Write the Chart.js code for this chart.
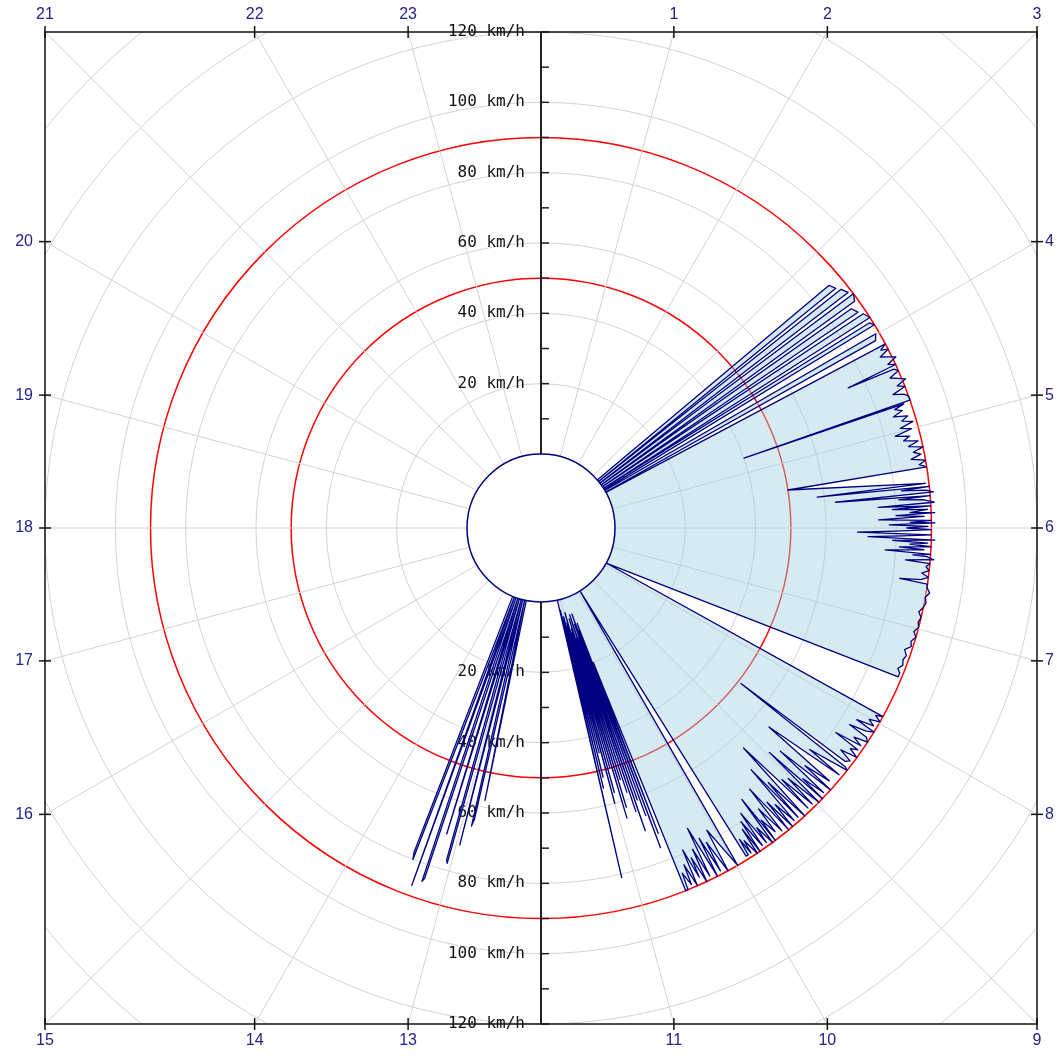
<!DOCTYPE html>
<html lang="ja">
<head>
<meta charset="utf-8">
<title>時刻別速度</title>
<script src="https://cdn.jsdelivr.net/npm/chart.js@4/dist/chart.umd.min.js"></script>
<style>
  html, body { margin: 0; padding: 0; background: #fff; }
  .chart-box { width: 1057px; height: 1058px; position: relative; }
</style>
</head>
<body>
<div class="chart-box"><canvas id="speedChart"></canvas></div>
<script>
// 計測時刻（0時からの分、30秒単位）
const minutes = [
  198, 199.5, 203.5, 204, 204.5, 206, 210, 210.5, 211, 212.5, 216.5, 217, 217.5, 219, 223, 223.5, 224, 225.5, 229.5, 230, 230.5, 232, 234.5, 235, 238, 239.5, 243, 243.5, 245, 247.5,
  249.5, 251, 253, 255, 257, 259, 261, 262, 263, 265, 267, 269, 271, 273, 275, 277, 279, 281, 283.5, 284, 284.5, 286, 288, 290, 292, 294, 296, 298, 300, 302, 304, 306, 308, 310, 312, 314, 316, 318, 320, 322, 324, 325, 333.5,
  334.5, 335.5, 336.5, 337.5, 339, 340, 341, 342, 343, 345, 346, 347, 348, 349, 350.5, 351, 352, 353, 354.5, 355.5, 356.5, 357, 358, 359, 360, 361, 362, 363, 364, 365, 366, 367, 368, 369, 370, 371, 372, 373, 374.5, 375.5, 376.5, 377, 378.5, 380, 381, 383, 385, 387, 389, 391, 392, 393,
  395, 398, 401, 404, 407, 410, 413, 416, 419, 422, 425, 428, 431, 434, 437, 440, 443, 446, 448, 450.5,
  473, 475.5, 477, 479, 481, 483, 485, 486, 488, 490, 491, 493, 495, 497, 499, 500, 502, 504, 506, 508, 510, 511.5, 512.5, 513.5,
  518, 518.5, 524.5, 525, 528, 528.5, 532, 532.5, 535, 535.5, 538, 538.5, 541.5, 542, 545, 545.5, 549.5, 550, 553, 553.5, 556, 556.5, 559, 559.5, 562, 562.5, 565.5, 566, 569, 569.5, 572, 572.5, 574, 574.5, 577, 577.5, 580, 580.5, 583, 583.5, 585, 585.5, 588, 588.5, 590, 590.5, 592, 593, 599,
  605, 605.5, 609, 609.5, 612, 612.5, 616, 616.5, 619, 619.5, 622, 622.5, 625, 625.5, 628, 628.5, 631, 631.5, 633,
  635, 636, 637, 638, 639, 640, 641, 642, 643, 644, 645, 646, 647, 648, 649, 650, 651, 652, 653, 654, 655, 656, 657, 658, 659, 660, 661, 662, 663, 664, 665, 666, 667, 668, 669,
  766, 766.5, 771, 771.5, 772.5, 777, 777.5, 782, 782.5, 783.5, 788, 788.5, 793, 793.5, 794.5, 799, 799.5, 804, 804.5, 805.5, 810
];
// 速度 (km/h)
const speeds = [
  0, 86, 87, 0, 0, 88, 89, 0, 0, 90, 89, 0, 0, 87, 88, 0, 0, 89, 90, 0, 0, 89, 90, 0, 0, 89, 88, 0, 0, 90,
  88, 90, 87, 89, 91, 88, 90, 75, 89, 90, 87, 89, 91, 88, 90, 86, 89, 90, 90, 40, 88, 85, 87, 84, 88, 86, 89, 85, 88, 83, 87, 85, 89, 86, 90, 87, 89, 86, 90, 88, 90, 50, 89,
  58, 90, 82, 89, 91, 63, 90, 81, 88, 91, 75, 90, 79, 89, 84, 91, 80, 88, 75, 90, 84, 91, 78, 89, 83, 90, 80, 69, 90, 82, 72, 91, 79, 89, 84, 90, 81, 88, 77, 90, 85, 89, 91, 83, 90, 89, 90, 88, 90, 88, 82, 90,
  90, 91, 90, 90.5, 90, 89, 90, 89.5, 90, 89, 90, 89, 89.5, 88, 89, 88.5, 89, 88, 89, 89,
  0, 90, 88, 90, 87, 89, 84, 90, 88, 83, 89, 90, 86, 89, 81, 89, 87, 90, 85, 89, 88, 51, 89, 90,
  78, 89, 65, 88, 80, 90, 72, 89, 82, 90, 70, 90, 79, 89, 78, 89, 64, 90, 76, 89, 70, 89, 82, 90, 80, 90, 74, 89, 80, 88, 83, 90, 75, 90, 84, 89, 78, 89, 80, 90, 82, 90, 85, 89, 84, 89, 89, 0, 90,
  77, 90, 80, 89, 78, 90, 74, 89, 80, 90, 82, 88, 79, 90, 83, 89, 85, 90, 90,
  20, 72, 8, 76, 10, 66, 5, 61, 8, 70, 12, 64, 5, 58, 12, 54, 6, 62, 9, 65, 10, 50, 4, 57, 7, 60, 8, 45, 5, 52, 6, 55, 3, 81, 0,
  0, 58, 0, 64, 66, 0, 72, 0, 78, 77, 0, 70, 0, 84, 85, 0, 87, 0, 80, 78, 0
];

const speedTicks = [20, 40, 60, 80, 100, 120]; // 速度軸のラベル
const limitSpeeds = [50, 90];                 // 赤い基準円
const hourTicks = [1, 2, 3, 4, 5, 6, 7, 8, 9, 10, 11, 13, 14, 15, 16, 17, 18, 19, 20, 21, 22, 23];
const outerRings = [140, 160];                // 枠の隅に見える補助円

document.addEventListener("DOMContentLoaded", () => {
  const canvas = document.getElementById("speedChart");
  if (!canvas) return;

  const SLOTS = 24 * 60 * 2;          // 30秒ごとの角度スロット
  const SLOTS_PER_HOUR = SLOTS / 24;
  const MAX_SPEED = 120;
  const HOLE = 74 / 496;              // 中央の穴（外周に対する比）
  const minSpeed = -MAX_SPEED * HOLE / (1 - HOLE);

  const labels = Array.from({ length: SLOTS }, (_, i) => i);
  const values = new Array(SLOTS).fill(null);
  minutes.forEach((m, i) => { values[Math.round(m * 2)] = speeds[i]; });

  const GRID = "#d2d2d2";
  const NAVY = "#000080";

  const polarFrame = {
    id: "polarFrame",
    beforeDatasetsDraw(chart) {
      const { ctx, chartArea: a } = chart;
      const r = chart.scales.r;
      const cx = r.xCenter, cy = r.yCenter;
      const half = (a.right - a.left) / 2;
      const outer = r.getDistanceFromCenterForValue(MAX_SPEED);

      // 120km/h より外側の補助線（枠でクリップ）
      ctx.save();
      ctx.beginPath();
      ctx.rect(a.left, a.top, a.right - a.left, a.bottom - a.top);
      ctx.clip();
      ctx.strokeStyle = GRID;
      ctx.lineWidth = 1;
      outerRings.forEach(v => {
        ctx.beginPath();
        ctx.arc(cx, cy, r.getDistanceFromCenterForValue(v), 0, Math.PI * 2);
        ctx.stroke();
      });
      for (let h = 0; h < 24; h++) {
        const ang = h * Math.PI / 12, sx = Math.sin(ang), sy = -Math.cos(ang);
        const t = half / Math.max(Math.abs(sx), Math.abs(sy));
        ctx.beginPath();
        ctx.moveTo(cx + sx * outer, cy + sy * outer);
        ctx.lineTo(cx + sx * t, cy + sy * t);
        ctx.stroke();
      }
      ctx.restore();

      // 縦の速度軸と目盛
      ctx.save();
      ctx.strokeStyle = "#222";
      ctx.lineWidth = 2;
      ctx.beginPath();
      ctx.moveTo(cx, a.top);
      ctx.lineTo(cx, a.bottom);
      ctx.stroke();
      ctx.lineWidth = 1.5;
      for (let v = 10; v <= MAX_SPEED; v += 10) {
        const d = r.getDistanceFromCenterForValue(v);
        [cy - d, cy + d].forEach(y => {
          ctx.beginPath();
          ctx.moveTo(cx, y);
          ctx.lineTo(cx + 8, y);
          ctx.stroke();
        });
      }
      ctx.font = '16px "DejaVu Sans Mono", monospace';
      ctx.fillStyle = "#111";
      ctx.textAlign = "right";
      ctx.textBaseline = "middle";
      speedTicks.forEach(v => {
        const d = r.getDistanceFromCenterForValue(v);
        ctx.fillText(v + " km/h", cx - 16, cy - d);
        ctx.fillText(v + " km/h", cx - 16, cy + d);
      });
      ctx.restore();
    },
    afterDatasetsDraw(chart) {
      const { ctx, chartArea: a } = chart;
      const r = chart.scales.r;
      const cx = r.xCenter, cy = r.yCenter;
      const half = (a.right - a.left) / 2;

      ctx.save();
      // 中央の穴
      ctx.beginPath();
      ctx.arc(cx, cy, r.getDistanceFromCenterForValue(0), 0, Math.PI * 2);
      ctx.fillStyle = "#fff";
      ctx.fill();
      ctx.strokeStyle = NAVY;
      ctx.lineWidth = 1.5;
      ctx.stroke();

      // 外枠
      ctx.strokeStyle = "#111";
      ctx.lineWidth = 1.5;
      ctx.strokeRect(a.left, a.top, a.right - a.left, a.bottom - a.top);

      // 時刻の目盛とラベル
      ctx.font = '16px "Liberation Sans", Arial, sans-serif';
      ctx.fillStyle = "#22228c";
      ctx.textBaseline = "middle";
      hourTicks.forEach(h => {
        const ang = h * Math.PI / 12, sx = Math.sin(ang), sy = -Math.cos(ang);
        const t = half / Math.max(Math.abs(sx), Math.abs(sy));
        const px = cx + sx * t, py = cy + sy * t;
        ctx.beginPath();
        if (Math.abs(sy) >= Math.abs(sx) - 1e-6) {
          ctx.moveTo(px, py - 6);
          ctx.lineTo(px, py + 6);
          ctx.stroke();
          ctx.textAlign = "center";
          ctx.fillText(String(h), px, sy < 0 ? a.top - 17 : a.bottom + 17);
        } else {
          ctx.moveTo(px - 6, py);
          ctx.lineTo(px + 6, py);
          ctx.stroke();
          if (sx < 0) {
            ctx.textAlign = "right";
            ctx.fillText(String(h), a.left - 12, py);
          } else {
            ctx.textAlign = "left";
            ctx.fillText(String(h), a.right + 8, py);
          }
        }
      });
      ctx.restore();
    },
  };

  new Chart(canvas.getContext("2d"), {
    type: "radar",
    data: {
      labels: labels,
      datasets: [
        {
          label: "速度",
          data: values,
          spanGaps: true,
          borderColor: NAVY,
          borderWidth: 1.3,
          borderJoinStyle: "round",
          backgroundColor: "rgba(165, 208, 225, 0.45)",
          fill: "origin",
          pointRadius: 0,
          pointHoverRadius: 0,
          tension: 0,
        },
      ],
    },
    options: {
      responsive: true,
      maintainAspectRatio: false,
      animation: false,
      layout: { padding: { left: 45, right: 20, top: 32, bottom: 34 } },
      scales: {
        r: {
          min: minSpeed,
          max: MAX_SPEED,
          startAngle: 0,
          grid: {
            circular: true,
            color: c => (limitSpeeds.includes(c.tick.value) ? "#ff0000" : GRID),
            lineWidth: c => {
              const v = c.tick.value;
              if (limitSpeeds.includes(v)) return 1.5;
              return v > 0 && v % 20 === 0 ? 1 : 0;
            },
          },
          angleLines: {
            display: true,
            color: GRID,
            lineWidth: c => (c.index % SLOTS_PER_HOUR === 0 ? 1 : 0),
          },
          ticks: { display: false, stepSize: 10 },
          pointLabels: { display: false },
        },
      },
      plugins: {
        legend: { display: false },
        tooltip: { enabled: false },
      },
    },
    plugins: [polarFrame],
  });
});
</script>
</body>
</html>
